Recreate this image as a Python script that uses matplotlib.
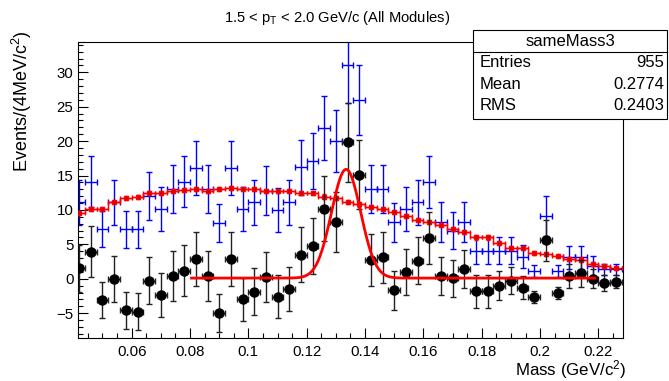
import matplotlib
matplotlib.use("Agg")
import matplotlib.pyplot as plt
import numpy as np
from matplotlib.patches import Rectangle
from matplotlib.ticker import MultipleLocator, FuncFormatter

plt.rcParams["font.family"] = ["Liberation Sans", "DejaVu Sans"]
plt.rcParams["mathtext.fontset"] = "custom"
plt.rcParams["mathtext.rm"] = "Liberation Sans"
plt.rcParams["mathtext.it"] = "Liberation Sans:italic"

# bin centres (4 MeV bins)
BIN0, BINW, NBINS = 0.042, 0.004, 47
mass = BIN0 + BINW * np.arange(NBINS)

# same-event (blue)
same = [11.1, 14.1, 7.2, 11.1, 7.2, 7.2, 12.0, 10.1, 13.0, 14.1, 16.1, 13.0, 8.1, 16.1, 10.1, 11.1,
        12.8, 10.0, 11.1, 16.2, 17.1, 21.9, 20.0, 31.1, 26.0, 13.0, 13.0, 8.2, 10.1, 11.1,
        14.1, 8.2, 7.0, 8.2, 4.1, 4.1, 4.1, 4.1, 3.2, 1.1, 9.1, 1.1, 3.1, 3.1, 1.9, 1.4, 1.4]
same_err = [3.3, 3.7, 2.6, 3.3, 2.7, 2.7, 3.5, 3.2, 3.5, 3.7, 3.9, 3.5, 2.8, 3.9, 3.2, 3.3,
            3.6, 3.2, 3.3, 4.0, 4.1, 4.7, 4.5, 5.6, 5.1, 3.5, 3.5, 2.85, 3.2, 3.3,
            3.8, 2.9, 2.7, 2.9, 1.9, 1.9, 1.9, 2.0, 1.7, 0.85, 2.9, 0.85, 1.65, 1.65, 1.4, 0.8, 0.8]

# mixed-event background (red)
mixed = [9.6, 10.2, 10.2, 11.2, 11.75, 11.9, 12.4, 12.4, 12.8, 12.9, 13.1, 12.8, 13.1, 13.25, 13.1, 13.1,
         12.8, 12.8, 12.8, 12.4, 12.4, 11.95, 11.7, 11.2, 10.8, 10.4, 10.1, 9.7, 9.1, 8.6,
         8.25, 7.8, 7.2, 6.8, 6.0, 6.0, 5.25, 4.5, 4.5, 3.8, 3.65, 3.3, 2.9, 2.8, 2.1, 1.85, 1.6]
mixed_err = [0.3] * NBINS

# subtracted signal (black)
signal = [1.5, 3.9, -3.1, 0.0, -4.6, -4.8, -0.3, -2.3, 0.4, 1.2, 2.9, 0.4, -5.0, 2.9, -3.0, -1.9,
          0.3, -2.6, -1.5, 3.5, 4.8, 10.2, 8.25, 19.8, 15.1, 2.7, 3.1, -1.7, 1.0, 2.6,
          5.9, 0.4, 0.1, 1.4, -1.8, -1.8, -1.0, -0.25, -1.3, -2.6, 5.6, -2.1, 0.4, 0.8, 0.0, -0.6, -0.4]
signal_err = [3.4, 3.7, 2.6, 3.3, 2.7, 2.7, 3.4, 3.2, 3.6, 3.7, 3.9, 3.6, 2.8, 3.9, 3.1, 3.4,
              3.6, 3.1, 3.2, 4.0, 4.1, 4.7, 4.4, 5.7, 5.0, 3.8, 3.7, 2.9, 3.3, 3.4,
              3.8, 2.8, 2.7, 2.8, 2.4, 2.4, 2.1, 2.0, 1.7, 0.85, 3.0, 0.9, 1.75, 1.95, 1.35, 1.2, 1.0]

# gaussian fit
FIT_AMP, FIT_MEAN, FIT_SIGMA, FIT_BASE = 15.8, 0.1335, 0.0050, 0.1
FIT_RANGE = (0.0805, 0.2188)

STATS = [("Entries", "955"), ("Mean", "0.2774"), ("RMS", "0.2403")]

fig = plt.figure(figsize=(6.69, 3.81), dpi=100)
ax = fig.add_axes([0.117, 0.1129, 0.8138, 0.7769])

ax.errorbar(mass, same, yerr=same_err, xerr=BINW / 2, fmt="none", ecolor="#0000ff",
            elinewidth=1.0, capsize=2.2, capthick=1.0, zorder=2)
ax.step(mass, mixed, where="mid", color="#ff0000", lw=1.0, zorder=3)
ax.errorbar(mass, mixed, yerr=mixed_err, xerr=BINW / 2, fmt="s", ms=2.5, color="#ff0000",
            mfc="#cc0000", mec="#ff0000", elinewidth=1.0, capsize=1.5, zorder=3)
ax.errorbar(mass, signal, yerr=signal_err, xerr=BINW / 2, fmt="o", ms=6.5, color="black",
            ecolor="#222222", elinewidth=1.0, capsize=2.2, capthick=1.0, zorder=4)

xf = np.linspace(*FIT_RANGE, 400)
ax.plot(xf, FIT_BASE + FIT_AMP * np.exp(-0.5 * ((xf - FIT_MEAN) / FIT_SIGMA) ** 2),
        color="#ff0000", lw=2.0, zorder=5)

ax.set_xlim(0.0417, 0.2283)
ax.set_ylim(-8.6, 34.4)
ax.xaxis.set_major_locator(MultipleLocator(0.02))
ax.xaxis.set_minor_locator(MultipleLocator(0.005))
ax.yaxis.set_major_locator(MultipleLocator(5))
ax.yaxis.set_minor_locator(MultipleLocator(1))
ax.xaxis.set_major_formatter(FuncFormatter(lambda v, p: f"{v:g}"))
ax.yaxis.set_major_formatter(FuncFormatter(lambda v, p: f"{v:g}".replace("-", "\u2212")))
ax.tick_params(which="both", direction="in", labelsize=10.8, top=False, right=False, width=0.8)
ax.tick_params(which="major", length=7)
ax.tick_params(which="minor", length=3.5)
ax.tick_params(axis="x", pad=5)
for s in ax.spines.values():
    s.set_linewidth(0.8)

fig.text(0.504, 0.953, r"1.5 < p$_{\mathrm{T}}$ < 2.0 GeV/c (All Modules)",
         ha="center", va="center", fontsize=10.6)
fig.text(0.033, 0.921, r"Events/(4MeV/c$^{2}$)", rotation=90, ha="center", va="top",
         fontsize=13)
fig.text(0.937, 0.029, r"Mass (GeV/c$^{2}$)", ha="right", va="center", fontsize=12.2)

# stats box
bx0, bx1, by0, by1, bsep = 0.707, 0.997, 0.688, 0.921, 0.8635
fig.patches.append(Rectangle((bx0, by0), bx1 - bx0, by1 - by0, transform=fig.transFigure,
                             fc="white", ec="black", lw=0.8, zorder=10))
fig.add_artist(plt.Line2D([bx0, bx1], [bsep, bsep], transform=fig.transFigure,
                          color="black", lw=0.8, zorder=11))
fig.text((bx0 + bx1) / 2, 0.892, "sameMass3", ha="center", va="center", fontsize=12, zorder=12)
for k, (name, val) in enumerate(STATS):
    yy = 0.835 - k * 0.0565
    fig.text(0.7175, yy, name, ha="left", va="center", fontsize=12, zorder=12)
    fig.text(0.9925, yy, val, ha="right", va="center", fontsize=12, zorder=12)

fig.savefig("out.png", dpi=100)
